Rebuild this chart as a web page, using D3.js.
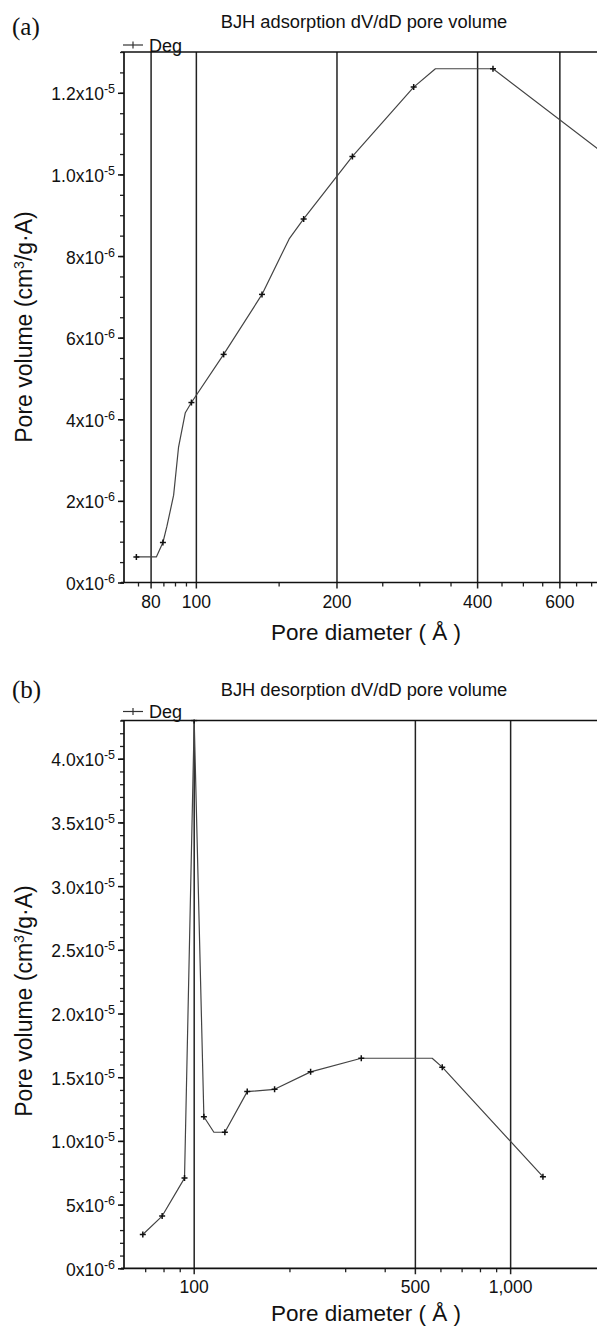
<!DOCTYPE html>
<html>
<head>
<meta charset="utf-8">
<script src="https://cdn.jsdelivr.net/npm/d3@7"></script>
<style>
  html, body { margin: 0; padding: 0; background: #fff; }
  svg { display: block; }
  text { font-family: "Liberation Sans", Arial, sans-serif; fill: #111; }
</style>
</head>
<body>
<svg id="chart" width="597" height="1329"></svg>
<script>
// ---------- Data: (a) BJH adsorption ----------
const adsDiameter = [74.4, 82.1, 84.8, 86.5, 89.4, 91.6, 94.7, 97.6, 114.4, 138.2, 158.0, 169.7, 215.8, 291.9, 324.9, 431.5, 900];
const adsVolume   = [0.627e-6, 0.627e-6, 0.98e-6, 1.38e-6, 2.14e-6, 3.32e-6, 4.16e-6, 4.41e-6, 5.59e-6, 7.06e-6, 8.42e-6, 8.91e-6, 10.44e-6, 12.14e-6, 12.59e-6, 12.59e-6, 9.80e-6];
const adsMarked   = [1, 0, 1, 0, 0, 0, 0, 1, 1, 1, 0, 1, 1, 1, 0, 1, 1];
const adsXMajor   = [80, 100, 200, 400, 600];
const adsXMinor   = [75, 85, 90, 95, 150, 250, 300, 350, 450, 500, 550, 650, 700];
const adsYMajor   = [0, 2e-6, 4e-6, 6e-6, 8e-6, 1.0e-5, 1.2e-5];
const adsYMant    = ["0x10", "2x10", "4x10", "6x10", "8x10", "1.0x10", "1.2x10"];
const adsYExp     = ["-6", "-6", "-6", "-6", "-6", "-5", "-5"];

// ---------- Data: (b) BJH desorption ----------
const desDiameter = [68.8, 79.2, 93.2, 100, 107.3, 115.4, 125.0, 147.1, 179.5, 233.3, 337.3, 565, 608, 1265];
const desVolume   = [2.65e-6, 4.1e-6, 7.08e-6, 4.30e-5, 1.19e-5, 1.068e-5, 1.068e-5, 1.387e-5, 1.405e-5, 1.542e-5, 1.649e-5, 1.649e-5, 1.579e-5, 0.719e-5];
const desMarked   = [1, 1, 1, 1, 1, 0, 1, 1, 1, 1, 1, 0, 1, 1];
const desXMajor   = [100, 500, 1000];
const desXMajorLabels = ["100", "500", "1,000"];
const desXMinor   = [70, 80, 90, 200, 300, 400, 600, 700, 800, 900, 2000];
const desYMajor   = [0, 5e-6, 1.0e-5, 1.5e-5, 2.0e-5, 2.5e-5, 3.0e-5, 3.5e-5, 4.0e-5];
const desYMant    = ["0x10", "5x10", "1.0x10", "1.5x10", "2.0x10", "2.5x10", "3.0x10", "3.5x10", "4.0x10"];
const desYExp     = ["-6", "-6", "-5", "-5", "-5", "-5", "-5", "-5", "-5"];

const svg = d3.select("#chart");

function panel(cfg) {
  const g = svg.append("g");
  const x = d3.scaleLog().domain(cfg.xDomain).range([cfg.left, cfg.right]);
  const y = d3.scaleLinear().domain(cfg.yDomain).range([cfg.bottom, cfg.top]);

  const clipId = "clip" + cfg.id;
  svg.append("clipPath").attr("id", clipId).append("rect")
    .attr("x", cfg.left).attr("y", cfg.top - 1)
    .attr("width", 597 - cfg.left).attr("height", cfg.bottom - cfg.top + 1);

  // vertical lines at major x ticks
  g.append("g").selectAll("line").data(cfg.xMajor).join("line")
    .attr("x1", d => x(d)).attr("x2", d => x(d))
    .attr("y1", cfg.top).attr("y2", cfg.bottom + 6)
    .attr("stroke", "#222").attr("stroke-width", 1.5);

  // x minor ticks
  const xMinorAxis = d3.axisBottom(x).tickValues(cfg.xMinor).tickSize(4).tickFormat("");
  const gxm = g.append("g").attr("transform", `translate(0,${cfg.bottom})`).call(xMinorAxis);
  gxm.select(".domain").remove();
  gxm.selectAll("line").attr("stroke", "#222").attr("stroke-width", 1.3);

  // x axis line + top frame
  g.append("line").attr("x1", cfg.left - 3).attr("x2", 597)
    .attr("y1", cfg.bottom).attr("y2", cfg.bottom)
    .attr("stroke", "#111").attr("stroke-width", 1.7);
  g.append("line").attr("x1", cfg.left - 3).attr("x2", 597)
    .attr("y1", cfg.top).attr("y2", cfg.top)
    .attr("stroke", "#111").attr("stroke-width", 1.7);

  // x labels
  g.append("g").selectAll("text").data(cfg.xMajor).join("text")
    .attr("x", d => x(d)).attr("y", cfg.bottom + 25)
    .attr("text-anchor", "middle").attr("font-size", 17.5)
    .text((d, i) => cfg.xLabels[i]);

  // y axis ticks
  const yMinor = d3.range(0, cfg.yDomain[1] + 1e-12, cfg.yMinorStep);
  const yMinorAxis = d3.axisLeft(y).tickValues(yMinor).tickSize(4).tickFormat("");
  const gym = g.append("g").attr("transform", `translate(${cfg.left},0)`).call(yMinorAxis);
  gym.select(".domain").remove();
  gym.selectAll("line").attr("stroke", "#222").attr("stroke-width", 1.3);
  const yMajorAxis = d3.axisLeft(y).tickValues(cfg.yMajor).tickSize(6).tickFormat("");
  const gyM = g.append("g").attr("transform", `translate(${cfg.left},0)`).call(yMajorAxis);
  gyM.select(".domain").remove();
  gyM.selectAll("line").attr("stroke", "#111").attr("stroke-width", 1.5);

  g.append("line").attr("x1", cfg.left).attr("x2", cfg.left)
    .attr("y1", cfg.top).attr("y2", cfg.bottom)
    .attr("stroke", "#111").attr("stroke-width", 1.7);

  // y labels with superscript
  const yl = g.append("g").selectAll("text").data(cfg.yMajor).join("text")
    .attr("x", cfg.left - 9).attr("y", d => y(d) + 7.5)
    .attr("text-anchor", "end").attr("font-size", 17.5);
  yl.append("tspan").text((d, i) => cfg.yMant[i]);
  yl.append("tspan").attr("dy", -7).attr("font-size", 12.5).text((d, i) => cfg.yExp[i]);

  // curve
  const pts = cfg.xs.map((d, i) => ({ x: d, y: cfg.ys[i], m: cfg.marked[i] }));
  const line = d3.line().x(d => x(d.x)).y(d => y(d.y)).curve(d3.curveLinear);
  const plot = g.append("g").attr("clip-path", `url(#${clipId})`);
  plot.append("path").datum(pts).attr("d", line)
    .attr("fill", "none").attr("stroke", "#444").attr("stroke-width", 1.2)
    .attr("stroke-linejoin", "round");
  const mk = plot.append("g").selectAll("g").data(pts.filter(d => d.m)).join("g")
    .attr("transform", d => `translate(${x(d.x)},${y(d.y)})`);
  mk.append("line").attr("x1", -3).attr("x2", 3).attr("y1", 0).attr("y2", 0)
    .attr("stroke", "#111").attr("stroke-width", 1.5);
  mk.append("line").attr("x1", 0).attr("x2", 0).attr("y1", -3).attr("y2", 3)
    .attr("stroke", "#111").attr("stroke-width", 1.5);

  // panel tag + title
  g.append("text").attr("x", 12).attr("y", cfg.tagY)
    .style("font-family", "'Liberation Serif', 'Times New Roman', serif")
    .attr("font-size", 25).text(cfg.tag);
  g.append("text").attr("x", 364).attr("y", cfg.titleY)
    .attr("text-anchor", "middle").attr("font-size", 18.3).text(cfg.title);

  // legend
  const lg = g.append("g");
  lg.append("line").attr("x1", 123).attr("x2", 143).attr("y1", cfg.legY).attr("y2", cfg.legY)
    .attr("stroke", "#333").attr("stroke-width", 1.2);
  lg.append("line").attr("x1", 133).attr("x2", 133).attr("y1", cfg.legY - 3.5).attr("y2", cfg.legY + 3.5)
    .attr("stroke", "#333").attr("stroke-width", 1.2);
  lg.append("text").attr("x", 149).attr("y", cfg.legY + 6.5).attr("font-size", 18).text("Deg");

  // axis titles
  g.append("text").attr("x", 366).attr("y", cfg.xTitleY)
    .attr("text-anchor", "middle").attr("font-size", 22.5)
    .text("Pore diameter ( Å )");
  const yt = g.append("text")
    .attr("transform", `translate(32,${cfg.yTitleCY}) rotate(-90)`)
    .attr("text-anchor", "middle").attr("font-size", 23);
  yt.append("tspan").text("Pore volume (cm");
  yt.append("tspan").attr("dy", -8).attr("font-size", 14).text("3");
  yt.append("tspan").attr("dy", 8).text("/g·A)");
}

panel({
  id: "a", left: 124, right: 663.5, top: 52, bottom: 582.5,
  xDomain: [70, 1000], yDomain: [0, 1.3e-5], yMinorStep: 0.5e-6,
  xMajor: adsXMajor, xLabels: adsXMajor.map(String), xMinor: adsXMinor,
  yMajor: adsYMajor, yMant: adsYMant, yExp: adsYExp,
  xs: adsDiameter, ys: adsVolume, marked: adsMarked,
  tag: "(a)", tagY: 35, title: "BJH adsorption dV/dD pore volume", titleY: 28,
  legY: 45, xTitleY: 640, yTitleCY: 327
});

panel({
  id: "b", left: 124, right: 661.6, top: 720.5, bottom: 1268.3,
  xDomain: [60, 3000], yDomain: [0, 4.3e-5], yMinorStep: 1e-6,
  xMajor: desXMajor, xLabels: desXMajorLabels, xMinor: desXMinor,
  yMajor: desYMajor, yMant: desYMant, yExp: desYExp,
  xs: desDiameter, ys: desVolume, marked: desMarked,
  tag: "(b)", tagY: 698, title: "BJH desorption dV/dD pore volume", titleY: 696,
  legY: 711.5, xTitleY: 1321, yTitleCY: 1001
});
</script>
</body>
</html>
